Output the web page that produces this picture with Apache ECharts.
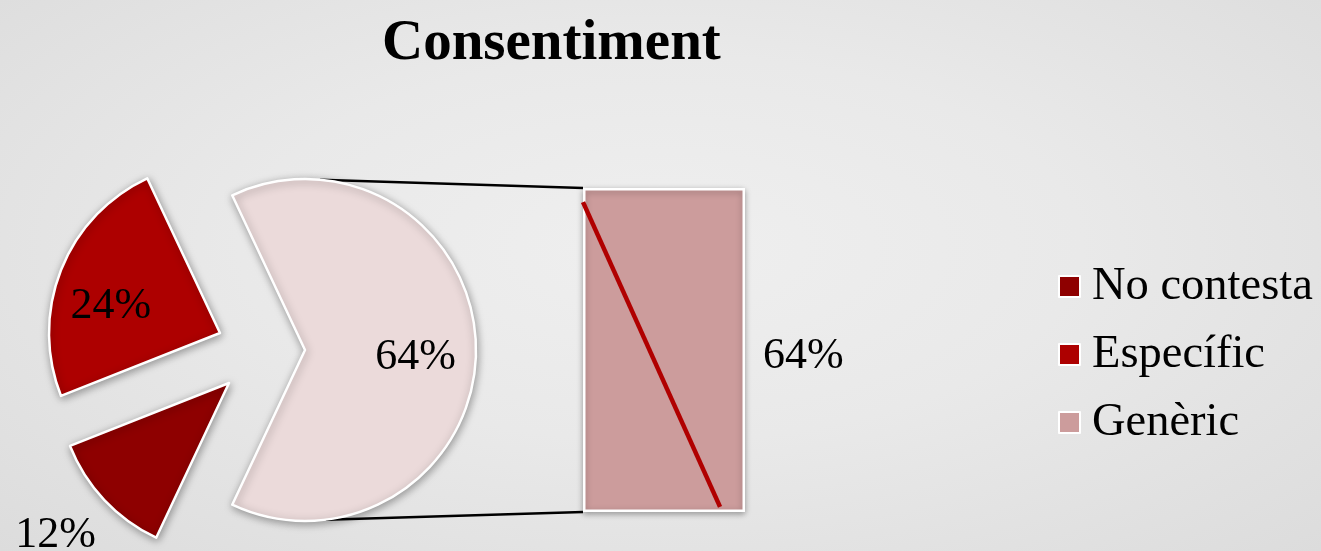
<!DOCTYPE html>
<html>
<head>
<meta charset="utf-8">
<script src="https://cdn.jsdelivr.net/npm/echarts@6/dist/echarts.min.js"></script>
<style>
html,body{margin:0;padding:0;width:1321px;height:551px;overflow:hidden;}
body{background:radial-gradient(ellipse at 50% 45%, #efefef 0%, #e9e9e9 45%, #dcdcdc 100%);}
#c{width:1321px;height:551px;}
</style>
</head>
<body>
<div id="c"></div>
<script>
// ---- data ----
var titleText = 'Consentiment';
var categories = ['No contesta', 'Específic', 'Genèric'];
var shares = [12, 24, 64];            // % of main pie
var barCategory = ['Genèric'];
var barValues = [64];                  // secondary bar (split-off part)
var lineX = [0, 0.846];                // red diagonal line inside the bar
var lineY = [61.2, 1.0];

// ---- styles ----
var sliceColors = {'No contesta':'#8e0000','Específic':'#ad0000','Genèric':'#ebdada'};
var legendColors = {'No contesta':'#8e0000','Específic':'#ad0000','Genèric':'#cc9c9c'};
var FONT = 'Liberation Serif';
var R = 171;
var centers = {'Genèric':[305,350],'Específic':[220,333],'No contesta':[229,383]};
var labelShift = {'Genèric':[22,7],'Específic':[-27,6],'No contesta':[-109,92]};
var barRect = {left:583, top:188, width:162, height:324};

// pie order clockwise from start: Genèric, No contesta, Específic
var order = ['Genèric','No contesta','Específic'];
var startAngle = shares[2]*3.6/2;

function pieFor(name){
  return {
    type:'pie', silent:true, radius:[0,R], center:centers[name],
    startAngle:startAngle, clockwise:true, avoidLabelOverlap:false,
    label:{show:false}, labelLine:{show:false},
    labelLayout:function(p){
      var s = labelShift[p.dataIndex===undefined?name:order[p.dataIndex]] || [0,0];
      return {dx:s[0], dy:s[1]};
    },
    data: order.map(function(n){
      var v = shares[categories.indexOf(n)];
      if(n===name){
        return {name:n, value:v,
          itemStyle:{color:sliceColors[n], borderColor:'#ffffff', borderWidth:2.5,
            shadowBlur:8, shadowColor:'rgba(0,0,0,0.35)', shadowOffsetX:1, shadowOffsetY:2},
          label:{show:true, position:'inside', formatter:'{d}%', fontFamily:FONT, fontSize:44, color:'#000'}};
      }
      return {name:n, value:v, itemStyle:{color:'rgba(0,0,0,0)', borderWidth:0}, label:{show:false}};
    })
  };
}

var chart = echarts.init(document.getElementById('c'), null, {renderer:'canvas'});

// connector line endpoints from pie geometry
var gc = centers['Genèric'];
function arcPt(deg){var a=deg*Math.PI/180;return [gc[0]+R*Math.cos(a), gc[1]-R*Math.sin(a)];}
var pTop = arcPt(85), pBot = arcPt(-83);

chart.setOption({
  animation:false,
  backgroundColor:'transparent',
  title:{text:titleText, left:377, top:11,
    textStyle:{fontFamily:FONT, fontWeight:'bold', fontSize:57, color:'#000'}},
  legend:{orient:'vertical', left:1053, top:258, itemWidth:21, itemHeight:21, itemGap:21,
    icon:'rect', selectedMode:false,
    textStyle:{fontFamily:FONT, fontSize:46.5, color:'#000', padding:[0,0,0,7]},
    data: categories.map(function(n){return {name:n, itemStyle:{color:legendColors[n], borderColor:'#fff', borderWidth:2}};})
  },
  grid:[
    {left:barRect.left, top:barRect.top, width:barRect.width, height:barRect.height},
    {left:barRect.left, top:barRect.top, width:barRect.width, height:barRect.height}
  ],
  xAxis:[
    {type:'category', gridIndex:0, data:barCategory, show:false},
    {type:'value', gridIndex:1, min:0, max:1, show:false}
  ],
  yAxis:[
    {type:'value', gridIndex:0, min:0, max:64, show:false},
    {type:'value', gridIndex:1, min:0, max:64, show:false}
  ],
  graphic:[
    {type:'line', z:0, shape:{x1:pTop[0], y1:pTop[1], x2:barRect.left, y2:barRect.top}, style:{stroke:'#000', lineWidth:2.5}},
    {type:'line', z:0, shape:{x1:pBot[0], y1:pBot[1], x2:barRect.left, y2:barRect.top+barRect.height}, style:{stroke:'#000', lineWidth:2.5}}
  ],
  series:[
    pieFor('Genèric'), pieFor('Específic'), pieFor('No contesta'),
    {type:'bar', xAxisIndex:0, yAxisIndex:0, silent:true, barWidth:'100%', data:barValues,
      itemStyle:{color:'#cc9c9c', borderColor:'#fff', borderWidth:2.5, shadowBlur:6, shadowColor:'rgba(0,0,0,0.3)', shadowOffsetY:2},
      label:{show:true, position:'right', distance:18, offset:[0,6], formatter:'{c}%', fontFamily:FONT, fontSize:44, color:'#000'}},
    {type:'line', xAxisIndex:1, yAxisIndex:1, silent:true, symbol:'none', z:5,
      data: lineX.map(function(x,i){return [x, lineY[i]];}),
      lineStyle:{color:'#b00000', width:4.5}}
  ]
});
</script>
</body>
</html>
